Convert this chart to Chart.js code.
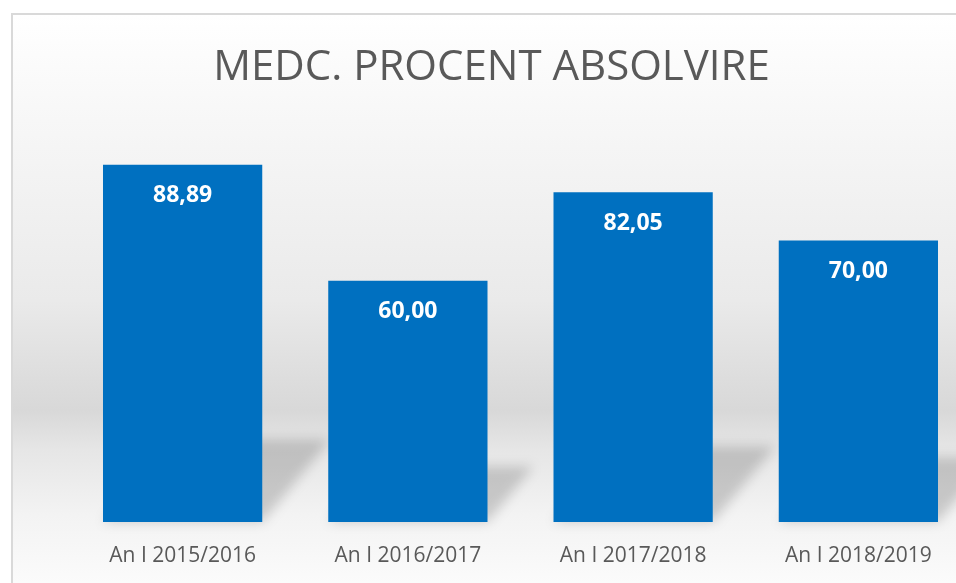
<!DOCTYPE html>
<html>
<head>
<meta charset="utf-8">
<script src="https://cdn.jsdelivr.net/npm/chart.js@4.4.1/dist/chart.umd.min.js"></script>
<style>
  html, body { margin: 0; padding: 0; width: 956px; height: 583px; overflow: hidden; background: #ffffff; }
  .frame {
    position: absolute; left: 11px; top: 13px; width: 1000px; height: 700px;
    border: 2px solid #d9d9d9; box-sizing: border-box;
    background: linear-gradient(to bottom, #ffffff 0px, #f7f7f7 105px, #eaeaea 285px, #d8d8d8 395px, #e6e6e6 435px, #f3f3f3 500px, #fbfbfb 568px);
  }
  #absolvireChart { position: absolute; left: 12px; top: 0; }
</style>
</head>
<body>
<div class="frame"></div>
<canvas id="absolvireChart" width="959" height="583"></canvas>
<script>
const chartTitle = 'MEDC. PROCENT ABSOLVIRE';
const categories = ['An I 2015/2016', 'An I 2016/2017', 'An I 2017/2018', 'An I 2018/2019'];
const absolvirePercent = [88.89, 60.00, 82.05, 70.00];
const yMax = 100;

const barBlue = '#0070c0';
const textGrey = '#595959';

// Romanian style decimals: 88,89
const formatValue = (v) => v.toFixed(2).replace('.', ',');

// soft floor shadow cast up-right behind each bar, like the office chart style
const floorShadow = {
  id: 'floorShadow',
  beforeDatasetsDraw(chart) {
    const ctx = chart.ctx;
    const meta = chart.getDatasetMeta(0);
    ctx.save();
    ctx.filter = 'blur(6px)';
    ctx.fillStyle = 'rgba(0, 0, 0, 0.17)';
    meta.data.forEach(bar => {
      const h = bar.base - bar.y;
      const left = bar.x - bar.width / 2;
      const right = bar.x + bar.width / 2;
      const dx = h * 0.19;
      const dy = h * 0.23;
      ctx.beginPath();
      ctx.moveTo(left, bar.base);
      ctx.lineTo(right, bar.base);
      ctx.lineTo(right + dx, bar.base - dy);
      ctx.lineTo(left + dx, bar.base - dy);
      ctx.closePath();
      ctx.fill();
    });
    ctx.restore();
  }
};

const valueLabels = {
  id: 'valueLabels',
  afterDatasetsDraw(chart) {
    const ctx = chart.ctx;
    const meta = chart.getDatasetMeta(0);
    ctx.save();
    ctx.font = 'bold 23px "Open Sans"';
    ctx.fillStyle = '#ffffff';
    ctx.textAlign = 'center';
    ctx.textBaseline = 'middle';
    meta.data.forEach((bar, i) => {
      ctx.fillText(formatValue(absolvirePercent[i]), bar.x, bar.y + 31);
    });
    ctx.restore();
  }
};

const ctx = document.getElementById('absolvireChart').getContext('2d');
new Chart(ctx, {
  type: 'bar',
  data: {
    labels: categories,
    datasets: [{
      data: absolvirePercent,
      backgroundColor: barBlue,
      borderWidth: 0,
      barPercentage: 0.707,
      categoryPercentage: 1,
    }],
  },
  options: {
    responsive: false,
    animation: false,
    layout: { padding: 0 },
    scales: {
      x: {
        grid: { display: false, drawTicks: false },
        border: { display: false },
        ticks: { color: textGrey, font: { family: 'Open Sans', size: 21 }, padding: 21 },
        afterFit: (scale) => { scale.height = 61; },
      },
      y: {
        min: 0,
        max: yMax,
        grid: { display: false, drawTicks: false },
        border: { display: false },
        ticks: { display: false },
        afterFit: (scale) => { scale.width = 58; },
      },
    },
    plugins: {
      legend: { display: false },
      tooltip: { enabled: false },
      title: {
        display: true,
        text: chartTitle,
        color: textGrey,
        font: { family: 'Open Sans', size: 42, weight: 'normal', lineHeight: 1.2 },
        padding: { top: 43, bottom: 26.6 },
      },
    },
  },
  plugins: [floorShadow, valueLabels],
});
</script>
</body>
</html>
